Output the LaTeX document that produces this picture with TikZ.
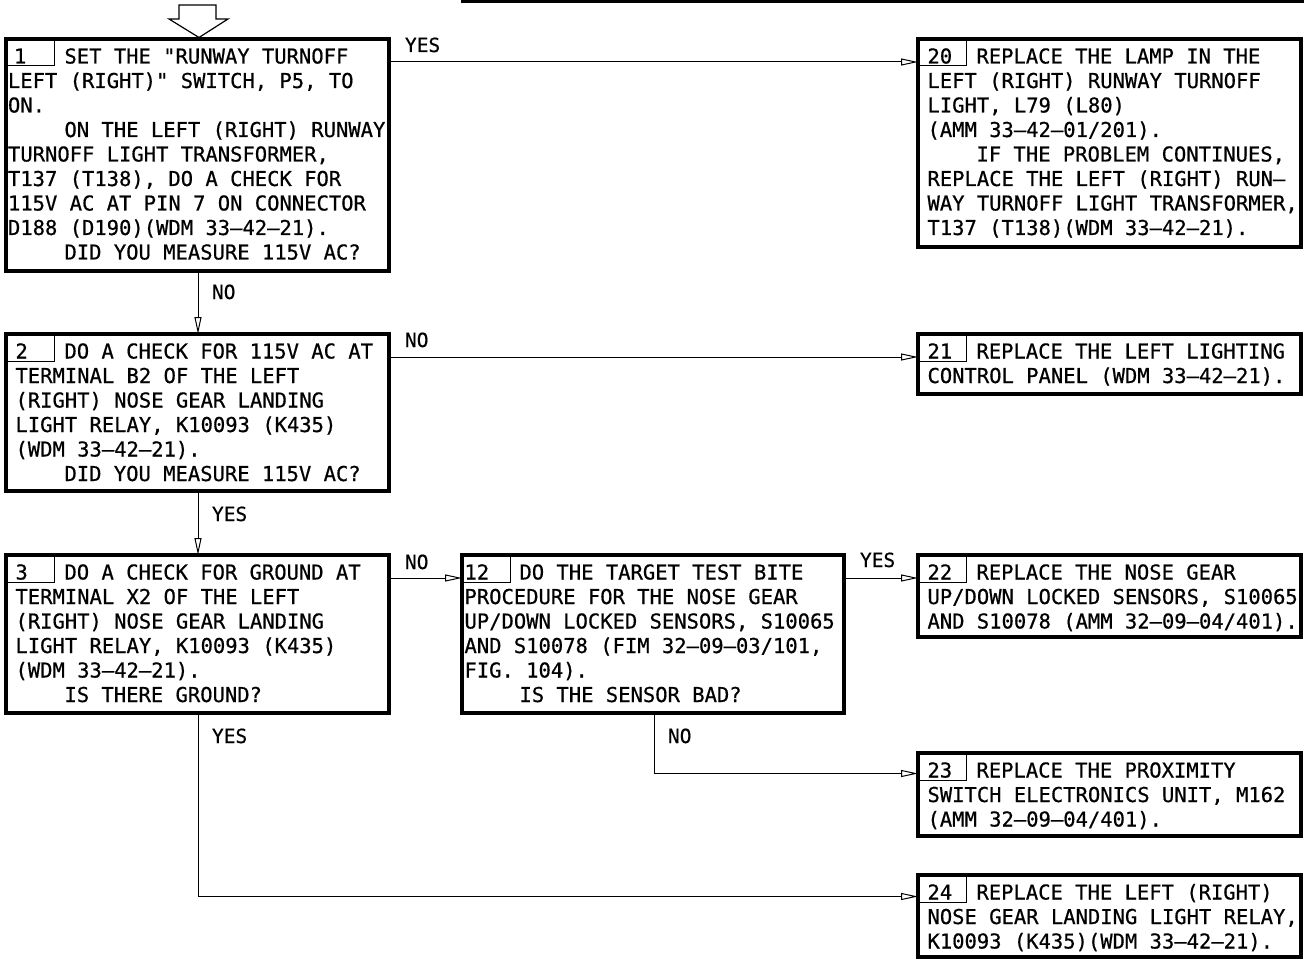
\documentclass[tikz,border=0pt]{standalone}
\usepackage{fontspec}
\newfontfamily\dvmono{DejaVu Sans Mono}[FakeBold=0.6]
\usetikzlibrary{arrows.meta,calc}
\newcommand{\boxfont}{\dvmono\fontsize{20.5pt}{24.5pt}\selectfont}
\newcommand{\lblfont}{\dvmono\fontsize{19.5pt}{23pt}\selectfont}
\newcommand{\mylines}[1]{\vtop{\baselineskip=24.5pt\lineskiplimit=-30pt\lineskip=0pt\halign{##\hfil\cr#1\crcr}}}
\newcommand{\myfirst}[3]{\makebox[#1][l]{#2}#3}
\tikzset{
  box/.style={draw, line width=3.2pt, rectangle, inner sep=0pt, outer sep=0pt, anchor=north west},
  txt/.style={inner sep=0pt, outer sep=0pt, anchor=base west, font=\boxfont},
  lbl/.style={inner sep=0pt, outer sep=0pt, anchor=base west, font=\lblfont},
  conn/.style={line width=1pt, -{Triangle[open, length=17pt, width=7pt]}},
  cell/.style={line width=1pt},
}
\begin{document}
\begin{tikzpicture}[x=1pt,y=-1pt]
\useasboundingbox (0,0) rectangle (1304,960);

% top rule and entry arrow
\draw[line width=3pt] (461,1.2) -- (1304,1.2);
\draw[line width=1.2pt, line join=miter] (179,5) -- (216,5) -- (216,19) -- (228,19) -- (199,37.5) -- (169,19) -- (179,19) -- cycle;

% boxes
\node[box, minimum width=383pt, minimum height=232pt] (b1) at (6,39) {};
\node[box, minimum width=383pt, minimum height=157pt] (b2) at (6,334) {};
\node[box, minimum width=383pt, minimum height=158pt] (b3) at (6,555) {};
\node[box, minimum width=382pt, minimum height=158pt] (b12) at (462,555) {};
\node[box, minimum width=383pt, minimum height=208pt] (b20) at (918,39) {};
\node[box, minimum width=383pt, minimum height=60pt] (b21) at (918,334) {};
\node[box, minimum width=383pt, minimum height=82pt] (b22) at (918,555) {};
\node[box, minimum width=383pt, minimum height=83pt] (b23) at (918,753) {};
\node[box, minimum width=383pt, minimum height=82pt] (b24) at (918,875) {};

% number cells
\foreach \b in {b1,b2,b3,b12,b20,b21,b22,b23,b24}{
  \draw[cell] ($(\b.north west)+(48,0)$) |- ($(\b.north west)+(0,27)$);
}

% texts
\node[txt] (t1) at ($(b1.north west)+(2,24.5)$) {\mylines{%
\myfirst{56.5pt}{\hspace*{6pt}1}{SET THE "RUNWAY TURNOFF}\cr
LEFT (RIGHT)" SWITCH, P5, TO\cr
ON.\cr
\hspace*{56.5pt}ON THE LEFT (RIGHT) RUNWAY\cr
TURNOFF LIGHT TRANSFORMER,\cr
T137 (T138), DO A CHECK FOR\cr
115V AC AT PIN 7 ON CONNECTOR\cr
D188 (D190)(WDM 33–42–21).\cr
\hspace*{56.5pt}DID YOU MEASURE 115V AC?}};

\node[txt] (t2) at ($(b2.north west)+(9.5,24.5)$) {\mylines{%
\myfirst{49pt}{2}{DO A CHECK FOR 115V AC AT}\cr
TERMINAL B2 OF THE LEFT\cr
(RIGHT) NOSE GEAR LANDING\cr
LIGHT RELAY, K10093 (K435)\cr
(WDM 33–42–21).\cr
\hspace*{49pt}DID YOU MEASURE 115V AC?}};

\node[txt] (t3) at ($(b3.north west)+(9.5,24.5)$) {\mylines{%
\myfirst{49pt}{3}{DO A CHECK FOR GROUND AT}\cr
TERMINAL X2 OF THE LEFT\cr
(RIGHT) NOSE GEAR LANDING\cr
LIGHT RELAY, K10093 (K435)\cr
(WDM 33–42–21).\cr
\hspace*{49pt}IS THERE GROUND?}};

\node[txt] (t12) at ($(b12.north west)+(2.5,24.5)$) {\mylines{%
\myfirst{55pt}{12}{DO THE TARGET TEST BITE}\cr
PROCEDURE FOR THE NOSE GEAR\cr
UP/DOWN LOCKED SENSORS, S10065\cr
AND S10078 (FIM 32–09–03/101,\cr
FIG. 104).\cr
\hspace*{55pt}IS THE SENSOR BAD?}};

\node[txt] (t20) at ($(b20.north west)+(9.5,24.5)$) {\mylines{%
\myfirst{49pt}{20}{REPLACE THE LAMP IN THE}\cr
LEFT (RIGHT) RUNWAY TURNOFF\cr
LIGHT, L79 (L80)\cr
(AMM 33–42–01/201).\cr
\hspace*{49pt}IF THE PROBLEM CONTINUES,\cr
REPLACE THE LEFT (RIGHT) RUN–\cr
WAY TURNOFF LIGHT TRANSFORMER,\cr
T137 (T138)(WDM 33–42–21).}};

\node[txt] (t21) at ($(b21.north west)+(9.5,24.5)$) {\mylines{%
\myfirst{49pt}{21}{REPLACE THE LEFT LIGHTING}\cr
CONTROL PANEL (WDM 33–42–21).}};

\node[txt] (t22) at ($(b22.north west)+(9.5,24.5)$) {\mylines{%
\myfirst{49pt}{22}{REPLACE THE NOSE GEAR}\cr
UP/DOWN LOCKED SENSORS, S10065\cr
AND S10078 (AMM 32–09–04/401).}};

\node[txt] (t23) at ($(b23.north west)+(9.5,24.5)$) {\mylines{%
\myfirst{49pt}{23}{REPLACE THE PROXIMITY}\cr
SWITCH ELECTRONICS UNIT, M162\cr
(AMM 32–09–04/401).}};

\node[txt] (t24) at ($(b24.north west)+(9.5,24.5)$) {\mylines{%
\myfirst{49pt}{24}{REPLACE THE LEFT (RIGHT)}\cr
NOSE GEAR LANDING LIGHT RELAY,\cr
K10093 (K435)(WDM 33–42–21).}};

% connectors
\draw[conn] ($(b1.north east)+(0,23)$) -- ($(b20.north west)+(0,23)$);
\draw[conn] ($(b2.north east)+(0,23)$) -- ($(b21.north west)+(0,23)$);
\draw[conn] ($(b3.north east)+(0,23)$) -- ($(b12.north west)+(0,23)$);
\draw[conn] ($(b12.north east)+(0,23)$) -- ($(b22.north west)+(0,23)$);
\draw[conn] ($(b1.south west)+(192,0)$) -- ($(b2.north west)+(192,0)$);
\draw[conn] ($(b2.south west)+(192,0)$) -- ($(b3.north west)+(192,0)$);
\draw[conn] ($(b12.south west)+(192,0)$) |- ($(b23.north west)+(0,20.5)$);
\draw[conn] ($(b3.south west)+(192,0)$) |- ($(b24.north west)+(0,21.5)$);

% labels
\node[lbl] (l1) at (405,52) {YES};
\node[lbl] (l2) at (212,299) {NO};
\node[lbl] (l3) at (405,347) {NO};
\node[lbl] (l4) at (212,521) {YES};
\node[lbl] (l5) at (405,569) {NO};
\node[lbl] (l6) at (860,567) {YES};
\node[lbl] (l7) at (212,743) {YES};
\node[lbl] (l8) at (668,743) {NO};
\end{tikzpicture}
\end{document}
